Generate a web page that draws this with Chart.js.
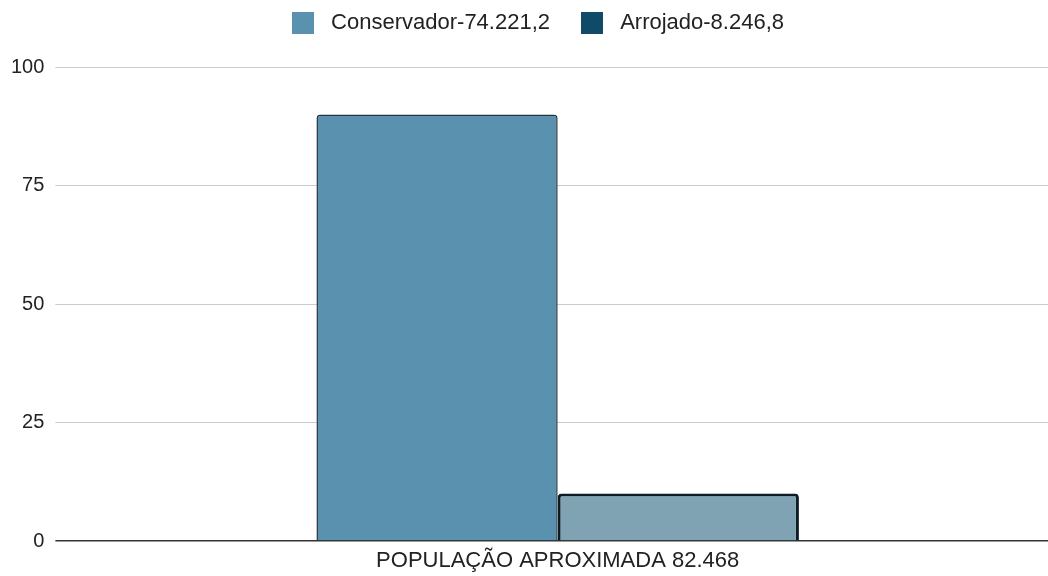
<!DOCTYPE html>
<html>
<head>
<meta charset="utf-8">
<script src="https://cdn.jsdelivr.net/npm/chart.js@4"></script>
<style>
  html, body { margin: 0; padding: 0; background: #fff; }
  #wrap { width: 1048px; height: 576px; position: relative; }
</style>
</head>
<body>
<div id="wrap"><canvas id="chart"></canvas></div>
<script>
// --- data ---
const categories = ['POPULAÇÃO APROXIMADA 82.468'];
const seriesNames = ['Conservador-74.221,2', 'Arrojado-8.246,8'];
const conservadorValues = [90];
const arrojadoValues = [10];
const yTicks = [0, 25, 50, 75, 100];

const legendColors = ['#5a91ae', '#0f4a66'];
const FONT = 'Liberation Sans, Arial, sans-serif';

// legend: wide gap between items, but keep it near the top edge
const legendTweak = {
    id: 'legendTweak',
    beforeInit(chart) {
        const origFit = chart.legend.fit;
        chart.legend.fit = function () {
            origFit.bind(chart.legend)();
            this.height += 4;
        };
    },
    afterLayout(chart) {
        const lg = chart.legend;
        lg.top -= 19;
        lg.left += 14;
        lg.right += 14;
    }
};

const ctx = document.getElementById('chart').getContext('2d');
new Chart(ctx, {
    type: 'bar',
    data: {
        labels: categories,
        datasets: [{
            label: seriesNames[0],
            data: conservadorValues,
            backgroundColor: '#5a91ae',
            borderColor: '#26343c',
            borderWidth: 1.5,
            borderRadius: { topLeft: 4, topRight: 4 },
            borderSkipped: 'bottom'
        }, {
            label: seriesNames[1],
            data: arrojadoValues,
            backgroundColor: '#7fa3b2',
            borderColor: '#0b1c24',
            borderWidth: 3,
            borderRadius: { topLeft: 4, topRight: 4 },
            borderSkipped: 'bottom'
        }]
    },
    options: {
        responsive: true,
        maintainAspectRatio: false,
        animation: false,
        layout: { padding: 0 },
        datasets: {
            bar: { barPercentage: 1, categoryPercentage: 0.492 }
        },
        scales: {
            x: {
                grid: { display: false, drawTicks: false },
                border: { display: false },
                ticks: { color: '#222', font: { family: FONT, size: 22 }, padding: 7 },
                afterFit: scale => { scale.height = 35; }
            },
            y: {
                min: 0,
                max: 100,
                afterBuildTicks: axis => { axis.ticks = yTicks.map(v => ({ value: v })); },
                border: { display: false },
                grid: {
                    color: c => c.tick && c.tick.value === 0 ? '#333' : '#ccc',
                    lineWidth: c => c.tick && c.tick.value === 0 ? 1.5 : 1,
                    tickLength: 12
                },
                ticks: { color: '#222', font: { family: FONT, size: 20 }, padding: 11 }
            }
        },
        plugins: {
            legend: {
                position: 'top',
                labels: {
                    color: '#222',
                    font: { family: FONT, size: 22 },
                    boxWidth: 22,
                    boxHeight: 22,
                    padding: 31,
                    generateLabels: chart => chart.data.datasets.map((ds, i) => ({
                        text: ' ' + ds.label,
                        fillStyle: legendColors[i],
                        strokeStyle: legendColors[i],
                        lineWidth: 0,
                        fontColor: '#222',
                        datasetIndex: i
                    }))
                }
            },
            tooltip: { enabled: false }
        }
    },
    plugins: [legendTweak]
});
</script>
</body>
</html>
